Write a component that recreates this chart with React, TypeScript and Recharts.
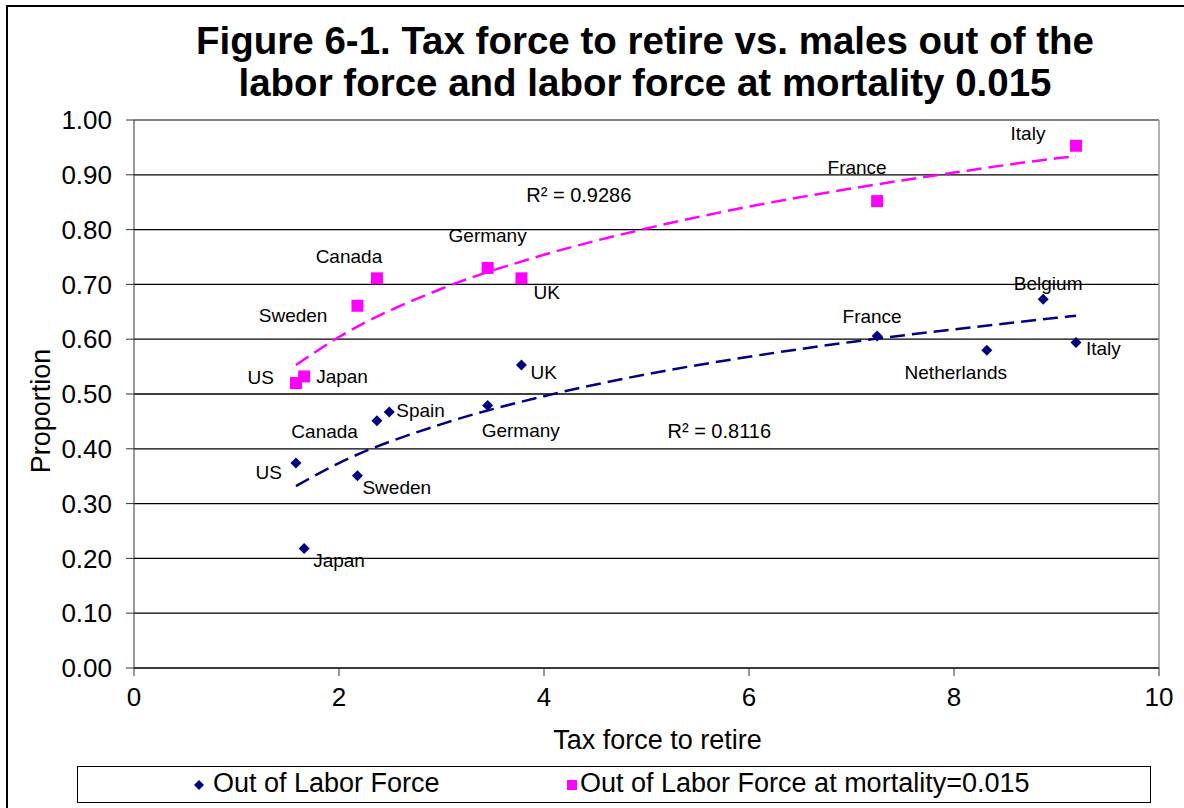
import React from "react";
import {
  ComposedChart,
  Scatter,
  Line,
  XAxis,
  YAxis,
  CartesianGrid,
  ReferenceLine,
  ReferenceDot,
} from "recharts";

// Out of Labor Force
const lfNames = ["US", "Japan", "Sweden", "Canada", "Spain", "Germany", "UK", "France", "Netherlands", "Belgium", "Italy"];
const lfTax = [1.58, 1.66, 2.18, 2.37, 2.49, 3.45, 3.78, 7.25, 8.32, 8.87, 9.19];
const lfShare = [0.374, 0.218, 0.351, 0.451, 0.467, 0.479, 0.553, 0.606, 0.58, 0.673, 0.594];

// Out of Labor Force at mortality=0.015
const mortNames = ["US", "Japan", "Sweden", "Canada", "Germany", "UK", "France", "Italy"];
const mortTax = [1.58, 1.66, 2.18, 2.37, 3.45, 3.78, 7.25, 9.19];
const mortShare = [0.52, 0.532, 0.661, 0.711, 0.73, 0.711, 0.852, 0.953];

// log trendlines
const trendTax = [1.58, 2, 3, 4, 5, 6, 7, 8, 9, 9.19];
const lfTrend = [0.332, 0.374, 0.445, 0.496, 0.536, 0.568, 0.595, 0.618, 0.639, 0.643];
const mortTrend = [0.553, 0.604, 0.692, 0.754, 0.802, 0.842, 0.875, 0.904, 0.93, 0.934];

const xTicks = [0, 2, 4, 6, 8, 10];
const yTicks = [0, 0.1, 0.2, 0.3, 0.4, 0.5, 0.6, 0.7, 0.8, 0.9, 1.0];

const lfData = lfNames.map((name, i) => ({ name, x: lfTax[i], y: lfShare[i] }));
const mortData = mortNames.map((name, i) => ({ name, x: mortTax[i], y: mortShare[i] }));
const lfTrendData = trendTax.map((x, i) => ({ x, y: lfTrend[i] }));
const mortTrendData = trendTax.map((x, i) => ({ x, y: mortTrend[i] }));

const NAVY = "#000080";
const PINK = "#FF00FF";
const FONT = "'Liberation Sans', Arial, sans-serif";

// label placement relative to the marker: [anchor, dx, dy]
const lfLabelPos: Record<string, [string, number, number]> = {
  US: ["end", -14, 9],
  Japan: ["start", 9, 12],
  Sweden: ["start", 5, 12],
  Canada: ["end", -19, 11],
  Spain: ["start", 7, -2],
  Germany: ["start", -6, 25],
  UK: ["start", 9, 8],
  France: ["middle", -5, -19],
  Netherlands: ["middle", -31, 22],
  Belgium: ["middle", 5, -16],
  Italy: ["start", 10, 6],
};
const mortLabelPos: Record<string, [string, number, number]> = {
  US: ["end", -22, -6],
  Japan: ["start", 12, 0],
  Sweden: ["end", -30, 10],
  Canada: ["middle", -28, -22],
  Germany: ["middle", 0, -32],
  UK: ["start", 12, 14],
  France: ["middle", -20, -34],
  Italy: ["middle", -48, -12],
};

const labelText = (cx: number, cy: number, pos: [string, number, number], name: string) => (
  <text
    x={cx + pos[1]}
    y={cy + pos[2]}
    textAnchor={pos[0] as any}
    dominantBaseline="central"
    fontSize={19}
    fontFamily={FONT}
    fill="#000"
  >
    {name}
  </text>
);

const Diamond = (props: any) => {
  const { cx, cy, payload } = props;
  const r = 5.5;
  return (
    <g>
      <path d={`M${cx},${cy - r}L${cx + r},${cy}L${cx},${cy + r}L${cx - r},${cy}Z`} fill={NAVY} />
      {labelText(cx, cy, lfLabelPos[payload.name], payload.name)}
    </g>
  );
};

const Square = (props: any) => {
  const { cx, cy, payload } = props;
  const s = 12;
  return (
    <g>
      <rect x={cx - s / 2} y={cy - s / 2} width={s} height={s} fill={PINK} />
      {labelText(cx, cy, mortLabelPos[payload.name], payload.name)}
    </g>
  );
};

const rSquared = (text: string) => (props: any) => {
  const { cx, cy } = props;
  return (
    <text x={cx} y={cy} textAnchor="middle" dominantBaseline="central" fontSize={20} fontFamily={FONT} fill="#000">
      {text}
    </text>
  );
};

export default function App() {
  return (
    <div style={{ position: "absolute", left: 0, top: 0, width: 1184, height: 808, background: "#fff", overflow: "hidden" }}>
      <div
        style={{
          position: "absolute",
          left: 6,
          top: 5,
          width: 1300,
          height: 900,
          borderLeft: "2px solid #000",
          borderTop: "2px solid #000",
        }}
      />
      <div
        style={{
          position: "absolute",
          left: 0,
          top: 20,
          width: 1290,
          textAlign: "center",
          fontFamily: FONT,
          fontWeight: "bold",
          fontSize: 38.5,
          lineHeight: "42px",
          color: "#000",
        }}
      >
        Figure 6-1. Tax force to retire vs. males out of the
        <br />
        labor force and labor force at mortality 0.015
      </div>

      <ComposedChart
        width={1184}
        height={808}
        margin={{ top: 120, right: 25, bottom: 50, left: 64 }}
        style={{ position: "absolute", left: 0, top: 0 }}
      >
        <CartesianGrid vertical={false} stroke="#000" strokeWidth={1.3} />
        <ReferenceLine y={1} stroke="#999" strokeWidth={1.5} />
        <ReferenceLine x={10} stroke="#999" strokeWidth={1.5} />
        <XAxis
          type="number"
          dataKey="x"
          domain={[0, 10]}
          ticks={xTicks}
          allowDataOverflow
          height={90}
          stroke="#333"
          tickSize={8}
          tickMargin={12}
          tick={{ fontSize: 26, fontFamily: FONT, fill: "#000" }}
          label={{
            value: "Tax force to retire",
            position: "insideBottom",
            offset: 9,
            dx: 11,
            style: { fontSize: 27, fontFamily: FONT, fill: "#000" },
          }}
        />
        <YAxis
          type="number"
          dataKey="y"
          domain={[0, 1]}
          ticks={yTicks}
          allowDataOverflow
          width={70}
          stroke="#333"
          tickSize={8}
          tickMargin={14}
          tickFormatter={(v: number) => v.toFixed(2)}
          tick={{ fontSize: 26, fontFamily: FONT, fill: "#000" }}
          label={{
            value: "Proportion",
            angle: -90,
            position: "insideLeft",
            offset: -24,
            dy: 17,
            style: { fontSize: 27, fontFamily: FONT, fill: "#000", textAnchor: "middle" },
          }}
        />
        <Line
          data={mortTrendData}
          dataKey="y"
          type="monotone"
          stroke={PINK}
          strokeWidth={2.5}
          strokeDasharray="15 7"
          dot={false}
          isAnimationActive={false}
        />
        <Line
          data={lfTrendData}
          dataKey="y"
          type="monotone"
          stroke={NAVY}
          strokeWidth={2.5}
          strokeDasharray="15 7"
          dot={false}
          isAnimationActive={false}
        />
        <Scatter data={lfData} dataKey="y" shape={Diamond} isAnimationActive={false} />
        <Scatter data={mortData} dataKey="y" shape={Square} isAnimationActive={false} />
        <ReferenceDot x={4.34} y={0.863} r={0} shape={rSquared("R² = 0.9286")} />
        <ReferenceDot x={5.71} y={0.432} r={0} shape={rSquared("R² = 0.8116")} />
      </ComposedChart>

      <div
        style={{
          position: "absolute",
          left: 77,
          top: 766,
          width: 1072,
          height: 35,
          border: "1.5px solid #000",
          fontFamily: FONT,
          fontSize: 27,
          color: "#000",
        }}
      >
        <svg width={10} height={10} style={{ position: "absolute", left: 116, top: 13 }}>
          <path d="M5,0L10,5L5,10L0,5Z" fill={NAVY} />
        </svg>
        <span style={{ position: "absolute", left: 135, top: 1, whiteSpace: "nowrap" }}>Out of Labor Force</span>
        <svg width={10} height={10} style={{ position: "absolute", left: 489, top: 13 }}>
          <rect width={10} height={10} fill={PINK} />
        </svg>
        <span style={{ position: "absolute", left: 502, top: 1, whiteSpace: "nowrap" }}>
          Out of Labor Force at mortality=0.015
        </span>
      </div>
    </div>
  );
}
